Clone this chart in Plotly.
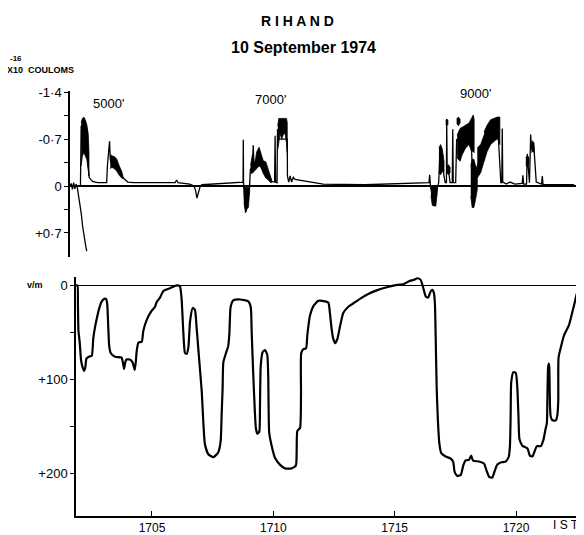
import plotly.graph_objects as go

# ---------------- DATA ----------------
# Lower panel: potential gradient (V/m), positive downward, time in IST (hhmm as minutes)
pg_time = [1701.87, 1701.93, 1701.95, 1701.97, 1702.02, 1702.08, 1702.15, 1702.2, 1702.25, 1702.3,
           1702.4, 1702.52, 1702.58, 1702.65, 1702.72, 1702.82, 1702.93, 1703.05, 1703.12, 1703.16,
           1703.2, 1703.24, 1703.3, 1703.48, 1703.75, 1703.8, 1703.85, 1703.9, 1703.95, 1704.09,
           1704.2, 1704.29, 1704.34, 1704.37, 1704.44, 1704.58, 1704.64, 1704.78, 1704.99, 1705.12,
           1705.19, 1705.33, 1705.47, 1705.74, 1706.02, 1706.15, 1706.22, 1706.29, 1706.36, 1706.43,
           1706.5, 1706.57, 1706.68, 1706.77, 1706.84, 1706.91, 1707.05, 1707.12, 1707.18, 1707.32,
           1707.53, 1707.73, 1707.83, 1707.87, 1707.91, 1707.94, 1708.05, 1708.14, 1708.19, 1708.24,
           1708.35, 1708.63, 1708.97, 1709.07, 1709.11, 1709.17, 1709.24, 1709.28, 1709.34, 1709.42,
           1709.45, 1709.48, 1709.56, 1709.66, 1709.75, 1709.79, 1709.83, 1709.93, 1710.07, 1710.27,
           1710.48, 1710.76, 1710.93, 1710.96, 1710.99, 1711.1, 1711.14, 1711.15, 1711.24, 1711.35,
           1711.4, 1711.51, 1711.65, 1711.85, 1712.13, 1712.27, 1712.33, 1712.4, 1712.47, 1712.55,
           1712.64, 1712.75, 1712.88, 1713.09, 1713.29, 1713.57, 1713.91, 1714.26, 1714.6, 1715.0,
           1715.38, 1715.59, 1715.8, 1715.93, 1716.07, 1716.18, 1716.28, 1716.38, 1716.48, 1716.55,
           1716.62, 1716.66, 1716.69, 1716.73, 1716.78, 1716.84, 1716.92, 1717.1, 1717.31, 1717.41,
           1717.47, 1717.58, 1717.72, 1717.83, 1717.92, 1718.06, 1718.15, 1718.23, 1718.47, 1718.68,
           1718.79, 1718.89, 1719.02, 1719.12, 1719.23, 1719.39, 1719.57, 1719.7, 1719.75, 1719.78,
           1719.8, 1719.89, 1719.99, 1720.05, 1720.1, 1720.14, 1720.26, 1720.47, 1720.57, 1720.68,
           1720.77, 1720.86, 1721.02, 1721.13, 1721.21, 1721.27, 1721.29, 1721.32, 1721.35, 1721.37,
           1721.4, 1721.43, 1721.5, 1721.64, 1721.7, 1721.74, 1721.75, 1721.84, 1721.98, 1722.18,
           1722.32, 1722.42, 1722.5, 1722.56]
pg_value = [0, 0, 20, 48, 60, 80, 88, 91, 88, 78,
            76, 75, 57, 45, 36, 25, 17, 14, 15, 21,
            45, 65, 72, 76, 77, 82, 89, 82, 79, 79,
            82, 90, 80, 70, 61, 60, 49, 37, 27, 23,
            18, 13, 6, 3, 0, 1, 14, 49, 72, 73,
            66, 38, 24, 26, 45, 68, 113, 148, 169, 180,
            183, 178, 166, 138, 110, 82, 72, 65, 51, 23,
            16, 15, 17, 23, 51, 93, 135, 152, 158, 156,
            128, 86, 71, 69, 74, 97, 157, 171, 184, 191,
            195, 195, 192, 179, 155, 152, 116, 72, 68, 67,
            53, 32, 22, 16.5, 17, 18.5, 29, 46, 57, 61.5,
            57, 43.5, 29.5, 22.7, 19.3, 14.3, 9.2, 5.3, 2.5, 0,
            -1.5, -4.5, -6, -7.6, -5.9, 3, 11.8, 13, 6.5, 4.8,
            8.5, 20.7, 55.8, 108.5, 143.8, 168.3, 178.8, 182.4, 184.5, 188,
            198.6, 203, 202, 191.6, 186.4, 186, 181.5, 186.8, 187.6, 189.8,
            197.8, 204, 204.8, 197.8, 190.9, 188.5, 187.8, 182.6, 170.3, 135.2,
            103.6, 92.4, 93.2, 107.6, 139.2, 163.8, 170.8, 173.7, 181.4, 182.2,
            176.5, 171.3, 171.3, 164.3, 153.8, 146.7, 122.2, 87.5, 83.3, 87.5,
            129.6, 140, 143.7, 143.9, 138.6, 122.8, 77.2, 66.6, 53, 42.4,
            28.4, 17.9, 9.1, 7.3]

# Upper panel: space charge (x1e-16 coulombs), negative upward; None = pen lift
q_time = [1701.87, 1701.92, 1701.97, 1702.02, 1702.07, 1702.12, 1702.17, 1702.21, 1702.26, 1702.33,
          1702.39, 1702.46, 1702.52, 1702.56, None,
          1702.30, 1702.33, 1702.36, 1702.40, 1702.44, 1702.48, 1702.53, 1702.58, 1702.62, 1702.64,
          1702.66, 1702.72, 1702.80, 1703.0, 1703.38, 1703.41, 1703.5, 1703.53, 1703.6, 1703.7,
          1703.8, 1703.9, 1704.0, 1704.1, 1704.25, 1704.5, 1705.5, 1706.2, 1706.26, 1706.32,
          1706.8, 1706.98, 1707.04, 1707.1, 1707.16, 1707.22, 1707.3, 1708.0, 1708.95, 1709.0,
          1709.01, 1709.02, 1709.06, 1709.12, 1709.2, 1709.27, 1709.3, 1709.38, 1709.42, 1709.45,
          1709.56, 1709.66, 1709.75, 1709.85, 1709.95, 1710.05, 1710.18, 1710.3, 1710.32, 1710.34,
          1710.4, 1710.42, 1710.45, 1710.82, 1710.83, 1710.88, 1710.94, 1711.0, 1711.07, 1711.14,
          1711.3, 1711.62, 1712.3, 1714.0, 1716.3, 1716.66, 1716.69, 1716.72, 1716.8, 1716.94,
          1717.02, 1717.06, 1717.1, 1717.2, 1717.28, 1717.33, 1717.38, 1717.39, 1717.41, 1717.46,
          1717.53, 1717.62, 1717.64, 1717.66, 1717.76, 1717.8, 1718.0, 1718.2, 1718.4, 1718.46,
          1718.55, 1718.65, 1718.8, 1718.95, 1719.2, 1719.5, 1719.6, 1719.62, 1719.66, 1719.68,
          1719.7, 1719.85, 1720.0, 1720.2, 1720.5, 1720.53, 1720.56, 1720.68, 1720.71, 1720.75,
          1720.8, 1720.85, 1720.88, 1720.98, 1721.03, 1721.08, 1721.3, 1721.33, 1721.36, 1722.64]
q_value = [0.0, -0.04, 0.05, -0.05, 0.04, -0.03, 0.02, 0.1, 0.2, 0.4,
           0.6, 0.79, 0.9, 0.97, None,
           0.0, -0.9, -0.55, -1.0, -0.6, -0.95, -0.5, -0.85, -0.3, -0.2,
           -0.13, -0.10, -0.07, -0.05, -0.05, -0.3, -0.67, -0.4, -0.3, -0.35,
           -0.28, -0.22, -0.15, -0.11, -0.06, -0.05, -0.05, -0.05, -0.09, -0.05,
           -0.03, 0.0, 0.06, 0.18, 0.1, 0.02, -0.02, -0.04, -0.06, -0.06,
           -0.69, -0.05, 0.25, 0.38, 0.2, 0.0, -0.25, -0.3, -0.61, -0.3,
           -0.4, -0.45, -0.35, -0.25, -0.22, -0.15, -0.07, -0.06, -0.75, -0.06,
           -0.05, -0.85, -0.7, -0.7, -0.15, -0.06, -0.15, -0.06, -0.13, -0.10,
           -0.09, -0.07, -0.03, -0.02, -0.04, -0.05, -0.17, 0.0, 0.15, 0.15,
           0.0, -0.05, -0.4, -0.35, -0.15, -0.05, -0.05, -1.0, -0.2, -0.25,
           -0.05, -0.05, -0.85, -0.05, -0.05, -0.7, -0.65, -0.75, -0.75, 0.0,
           -0.1, -0.3, -0.4, -0.55, -0.8, -0.85, -0.1, -0.05, -0.05, -0.86,
           -0.06, -0.03, -0.06, -0.03, -0.04, -0.16, -0.03, -0.03, -0.48, -0.3,
           -0.05, -0.77, -0.55, -0.6, -0.26, -0.06, -0.03, -0.15, -0.02, -0.02]

# Dense (blackened) bursts of the charge record: time, upper edge, lower edge
burst_time = [
    [1702.33, 1702.38, 1702.44, 1702.5, 1702.56, 1702.62, 1702.65],
    [1703.53, 1703.6, 1703.7, 1703.8, 1703.9, 1704.0, 1704.05],
    [1709.04, 1709.1, 1709.16, 1709.22, 1709.27],
    [1709.31, 1709.38, 1709.49, 1709.56, 1709.66, 1709.73, 1709.83, 1709.94, 1710.04, 1710.11, 1710.18],
    [1710.43, 1710.47, 1710.52, 1710.59, 1710.66, 1710.73, 1710.79, 1710.82],
    [1716.74, 1716.8, 1716.87, 1716.94, 1717.0],
    [1717.07, 1717.14, 1717.21, 1717.28],
    [1717.35, 1717.39, 1717.44],
    [1717.40, 1717.46, 1717.53],
    [1717.8, 1717.87, 1717.94],
    [1717.82, 1717.94, 1718.03, 1718.17, 1718.31, 1718.41, 1718.48, 1718.52],
    [1718.38, 1718.44, 1718.51, 1718.58, 1718.65],
    [1718.65, 1718.79, 1718.93],
    [1718.93, 1719.06, 1719.2, 1719.34, 1719.48, 1719.58],
    [1720.65, 1720.71, 1720.78],
    [1720.88, 1720.94, 1720.99],
]
burst_upper = [
    [-0.95, -1.01, -1.03, -0.99, -0.92, -0.78, -0.5],
    [-0.48, -0.45, -0.44, -0.40, -0.30, -0.22, -0.15],
    [0.0, 0.02, 0.02, 0.02, 0.0],
    [-0.31, -0.46, -0.34, -0.51, -0.58, -0.51, -0.38, -0.36, -0.26, -0.16, -0.09],
    [-0.9, -1.01, -1.01, -1.01, -1.01, -1.01, -1.01, -0.95],
    [0.02, 0.0, 0.0, 0.0, 0.02],
    [-0.57, -0.62, -0.55, -0.37],
    [-0.98, -1.0, -0.98],
    [-0.3, -0.32, -0.28],
    [-1.0, -1.03, -1.0],
    [-0.76, -0.86, -0.88, -0.91, -0.94, -1.01, -1.06, -1.0],
    [-0.3, -0.4, -0.4, -0.3, -0.25],
    [-0.57, -0.62, -0.76],
    [-0.81, -0.91, -0.99, -1.01, -1.03, -1.03],
    [-0.43, -0.45, -0.43],
    [-0.67, -0.67, -0.64],
]
burst_lower = [
    [-0.3, -0.45, -0.5, -0.45, -0.4, -0.25, -0.15],
    [-0.26, -0.28, -0.26, -0.22, -0.16, -0.12, -0.11],
    [0.25, 0.40, 0.34, 0.32, 0.08],
    [-0.19, -0.19, -0.22, -0.26, -0.30, -0.28, -0.19, -0.12, -0.09, -0.06, -0.05],
    [-0.55, -0.64, -0.79, -0.70, -0.77, -0.79, -0.64, -0.5],
    [0.15, 0.29, 0.30, 0.30, 0.1],
    [-0.2, -0.17, -0.22, -0.2],
    [-0.92, -0.9, -0.92],
    [-0.2, -0.17, -0.2],
    [-0.94, -0.9, -0.94],
    [-0.42, -0.37, -0.47, -0.57, -0.62, -0.52, -0.52, -0.5],
    [0.15, 0.32, 0.32, 0.2, 0.05],
    [-0.12, -0.2, -0.37],
    [-0.37, -0.52, -0.62, -0.67, -0.71, -0.62],
    [-0.30, -0.30, -0.32],
    [-0.50, -0.52, -0.5],
]

# Flight altitude legs
alt_labels = ["5000'", "7000'", "9000'"]
alt_start = [1702.28, 1708.87, 1717.24]
alt_end = [1704.63, 1711.35, 1719.88]

q_ticks = [-1.4, -1.05, -0.7, -0.35, 0, 0.35, 0.7]
q_ticktext = ["-1·4", "", "-0·7", "", "0", "", "+0·7"]
pg_ticks = [0, 50, 100, 150, 200]
pg_ticktext = ["0", "", "+100", "", "+200"]
time_ticks = [1705, 1710, 1715, 1720]

# ---------------- FIGURE ----------------
FONT = "Liberation Sans"
OFF = 8                      # page body margin of the html page
W, H = 584 - OFF, 535 - OFF  # figure size so that it fills the window


def fx(p):  # window pixel x -> paper fraction
    return (p - OFF) / W


def fy(p):  # window pixel y -> paper fraction
    return 1 - (p - OFF) / H


bx, by = [], []
for t, up, lo in zip(burst_time, burst_upper, burst_lower):
    bx += t + t[::-1] + [None]
    by += up + lo[::-1] + [None]

fig = go.Figure()
fig.add_trace(go.Scatter(x=bx, y=by, mode="lines", fill="toself", fillcolor="black",
                         line=dict(color="black", width=0.8), xaxis="x", yaxis="y",
                         hoverinfo="skip", showlegend=False))
fig.add_trace(go.Scatter(x=q_time, y=q_value, mode="lines", connectgaps=False,
                         line=dict(color="black", width=1.3), xaxis="x", yaxis="y",
                         showlegend=False))
fig.add_trace(go.Scatter(x=pg_time, y=pg_value, mode="lines", line_shape="spline",
                         line=dict(color="black", width=2.2, smoothing=0.5),
                         xaxis="x2", yaxis="y2", showlegend=False))

xr = [1701.87, 1722.8]

fig.update_layout(
    width=W, height=H,
    margin=dict(l=0, r=0, t=0, b=0),
    paper_bgcolor="white", plot_bgcolor="white",
    font=dict(family=FONT, color="black", size=13),
    xaxis=dict(domain=[fx(70), fx(578)], range=xr, visible=False, anchor="y"),
    yaxis=dict(domain=[fy(254), fy(86)], range=[1.055, -1.42], anchor="x",
               tickvals=q_ticks, ticktext=q_ticktext, ticks="outside", ticklen=4,
               tickwidth=1.3, tickcolor="black",
               showline=True, linecolor="black", linewidth=1.5,
               zeroline=True, zerolinecolor="black", zerolinewidth=1.5,
               showgrid=False, tickfont=dict(size=13, family=FONT)),
    xaxis2=dict(domain=[fx(76), 1.0], range=xr, anchor="y2",
                tickvals=time_ticks, ticktext=[str(v) for v in time_ticks],
                ticks="inside", ticklen=5, tickwidth=1.2, tickcolor="black",
                showline=True, linecolor="black", linewidth=1.5,
                showgrid=False, zeroline=False, tickfont=dict(size=12, family=FONT)),
    yaxis2=dict(domain=[fy(517), fy(274.5)], range=[246, -9], anchor="x2",
                tickvals=pg_ticks, ticktext=pg_ticktext, ticks="outside", ticklen=4,
                tickwidth=1.3, tickcolor="black",
                showline=True, linecolor="black", linewidth=1.5,
                zeroline=True, zerolinecolor="black", zerolinewidth=1.4,
                showgrid=False, tickfont=dict(size=13, family=FONT)),
)


def label(text, x, y, size, xanchor="center"):
    fig.add_annotation(text=text, x=fx(x), y=fy(y), xref="paper", yref="paper",
                       xanchor=xanchor, yanchor="middle", showarrow=False,
                       font=dict(size=size, family=FONT, color="black"))


# Titles and unit texts
label("<b>R I H A N D</b>", 297, 15, 14)
label("<b>10 September 1974</b>", 303, 42, 16)
label("<b>-16</b>", 16, 53, 8)
label("<b>X10  COULOMS</b>", 5, 65, 9, xanchor="left")
label("<b>v/m</b>", 35, 283, 9)
label("I S T", 566, 526, 12)

# Altitude legs (double arrows + labels) on the charge panel
arrow_y = [-1.48, -1.55, -1.58]
label_y = [-1.23, -1.29, -1.376]
for lab, s, e, ay_, ly in zip(alt_labels, alt_start, alt_end, arrow_y, label_y):
    fig.add_annotation(x=e, y=ay_, ax=s, ay=ay_, xref="x", yref="y", axref="x", ayref="y",
                       text="", showarrow=True, arrowhead=2, arrowside="end+start",
                       arrowsize=1, arrowwidth=1.3, arrowcolor="black")
    fig.add_annotation(x=(s + e) / 2, y=ly, xref="x", yref="y", text=lab, showarrow=False,
                       xanchor="center", yanchor="middle",
                       font=dict(size=13, family=FONT, color="black"))

fig.write_html("out.html")
